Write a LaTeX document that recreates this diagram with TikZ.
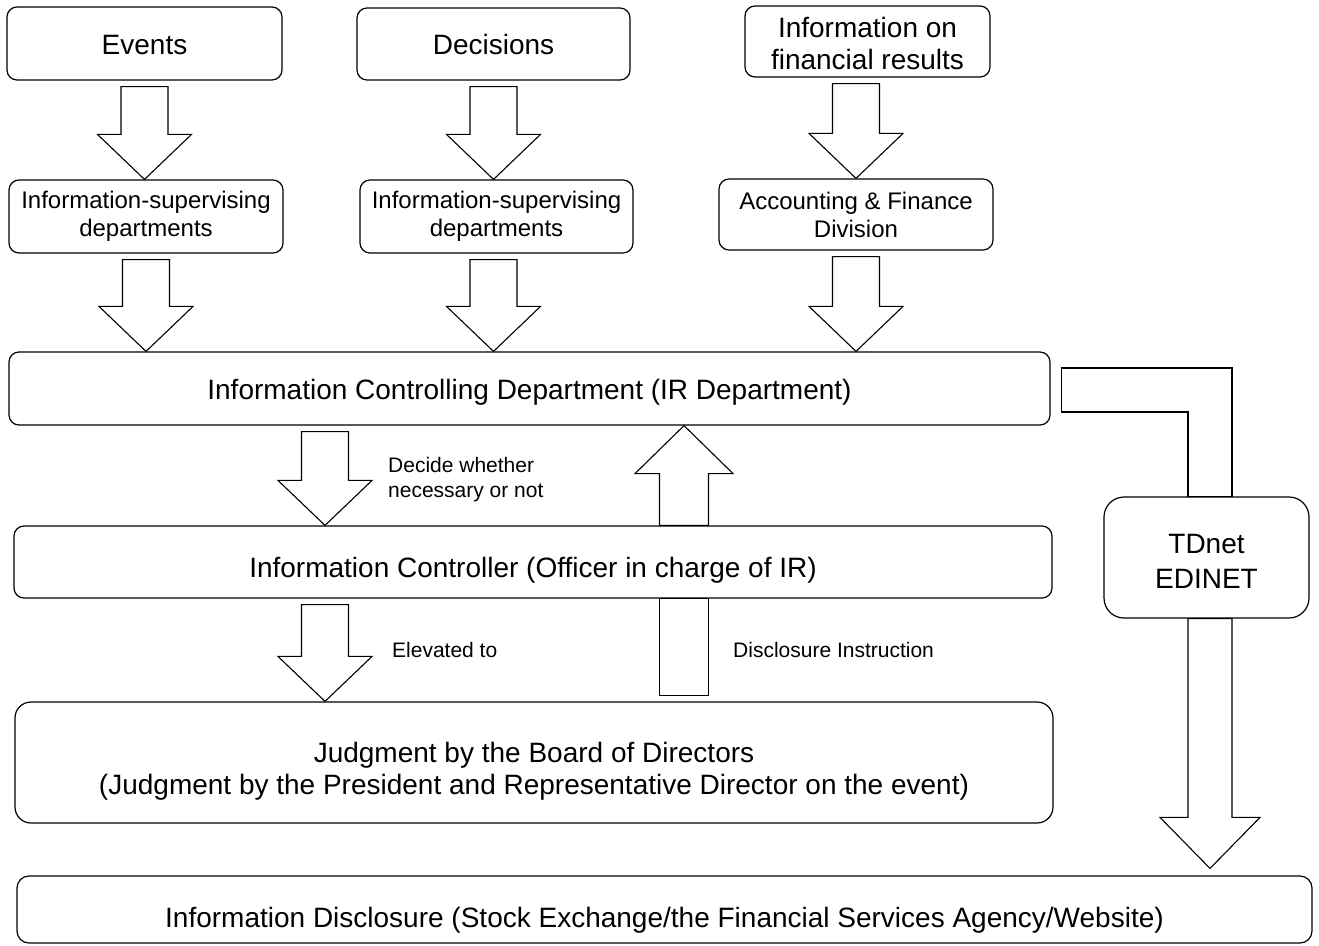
\documentclass[tikz,border=0pt]{standalone}
\usepackage{fontspec}
\setmainfont{Liberation Sans}
\usetikzlibrary{calc}

% block arrows: x is taken from the tip (down) or from the tail (up)
\newcommand{\blockdown}[2]{%
  \draw[blockarrow] let \p1=(#1), \p2=(#2) in
    (\x2-23.5pt,\y1-6pt) -- (\x2+23.5pt,\y1-6pt) -- (\x2+23.5pt,\y2+45pt)
    -- (\x2+47pt,\y2+45pt) -- (\x2,\y2) -- (\x2-47pt,\y2+45pt)
    -- (\x2-23.5pt,\y2+45pt) -- cycle;}
\newcommand{\blockup}[2]{%
  \draw[blockarrow] let \p1=(#1), \p2=(#2) in
    (\x1-24.5pt,\y1) -- (\x1+24.5pt,\y1) -- (\x1+24.5pt,\y2-48pt)
    -- (\x1+49pt,\y2-48pt) -- (\x1,\y2) -- (\x1-49pt,\y2-48pt)
    -- (\x1-24.5pt,\y2-48pt) -- cycle;}
% taller first line, pushes the text of a box down
\newcommand{\capstrut}[1]{\rule{0pt}{#1pt}}

\begin{document}
\begin{tikzpicture}[x=1pt, y=-1pt]
    \tikzset{box/.style={draw, fill=white, rounded corners=10pt, line width=1.2pt,
        inner sep=0pt, align=center, font=\fontsize{28}{32}\selectfont},
      midbox/.style={box, font=\fontsize{24}{28}\selectfont},
      lbl/.style={anchor=west, align=left, inner sep=0pt, font=\fontsize{21}{25}\selectfont},
      blockarrow/.style={draw, fill=white, line width=1.1pt, line join=miter}}

    \fill[white] (0,0) rectangle (1319,945);
    \useasboundingbox (0,0) rectangle (1319,945);

    \node (ev) [box, minimum width=275, minimum height=73] at (144.5,43.5) {\capstrut{22}Events};
    \node (dec) [box, minimum width=273, minimum height=72] at (493.5,44) {\capstrut{22}Decisions};
    \node (fin) [box, minimum width=245, minimum height=71] at (867.5,41.5) {\capstrut{23.5}Information on\\financial results};

    \node (sup1) [midbox, minimum width=274, minimum height=73] at (146,216.5) {Information-supervising\\departments};
    \node (sup2) [midbox, minimum width=273, minimum height=73] at (496.5,216.5) {Information-supervising\\departments};
    \node (acc) [midbox, minimum width=274, minimum height=71] at (856,214.5) {Accounting \& Finance\\Division};

    \node (ir) [box, minimum width=1041, minimum height=73] at (529.5,388.5) {\capstrut{27}Information Controlling Department (IR Department)};
    \node (ctrl) [box, minimum width=1038, minimum height=72] at (533,562) {\capstrut{37}Information Controller (Officer in charge of IR)};
    \node (board) [box, rounded corners=16pt, minimum width=1038, minimum height=121] at (534,762.5)
      {\capstrut{37}Judgment by the Board of Directors\\(Judgment by the President and Representative Director on the event)};
    \node (td) [box, rounded corners=20pt, minimum width=205, minimum height=121,
      font=\fontsize{28}{35}\selectfont] at (1206.5,557.5) {\capstrut{26}TDnet\\EDINET};
    \node (disc) [box, rounded corners=12pt, minimum width=1295, minimum height=67] at (664.5,909.5)
      {\capstrut{41}Information Disclosure (Stock Exchange/the Financial Services Agency/Website)};

    \coordinate (lane1) at (325,0);
    \coordinate (lane2) at (684,0);
    \coordinate (lane3) at (1210,0);

    \blockdown{ev.south}{ev.south |- sup1.north};
    \blockdown{dec.south}{dec.south |- sup2.north};
    \blockdown{fin.south}{acc.north};
    \blockdown{sup1.south}{sup1.south |- ir.north};
    \blockdown{sup2.south}{dec.south |- ir.north};
    \blockdown{acc.south}{acc.south |- ir.north};

    \blockdown{ir.south}{lane1 |- ctrl.north};
    \blockdown{ctrl.south}{lane1 |- board.north};
    \blockup{lane2 |- ctrl.north}{lane2 |- ir.south};
    \draw[blockarrow] let \p1=(lane2 |- board.north), \p2=(ctrl.south) in
      (\x1-24.5pt,\y1+6pt) rectangle (\x1+24.5pt,\y2);

    \node (decide) [lbl] at (388,480) {Decide whether\\necessary or not};
    \node (elev) [lbl] at (392,650) {Elevated to};
    \node (instr) [lbl] at (733,650) {Disclosure Instruction};

    % IR department -> TDnet/EDINET -> disclosure
    \draw[blockarrow] let \p1=(ir.east), \p2=(lane3 |- td.north) in
      (\x1+11pt,\y1+20.5pt) -- (\x2+22pt,\y1+20.5pt) -- (\x2+22pt,\y2)
      -- (\x2-22pt,\y2) -- (\x2-22pt,\y1-23.5pt) -- (\x1+11pt,\y1-23.5pt) -- cycle;
    \draw[blockarrow] let \p1=(lane3 |- td.south), \p2=(lane3 |- disc.north) in
      (\x1-22pt,\y1) -- (\x1+22pt,\y1) -- (\x1+22pt,\y2+58pt) -- (\x1+50pt,\y2+58pt)
      -- (\x1,\y2+7pt) -- (\x1-50pt,\y2+58pt) -- (\x1-22pt,\y2+58pt) -- cycle;
\end{tikzpicture}
\end{document}
